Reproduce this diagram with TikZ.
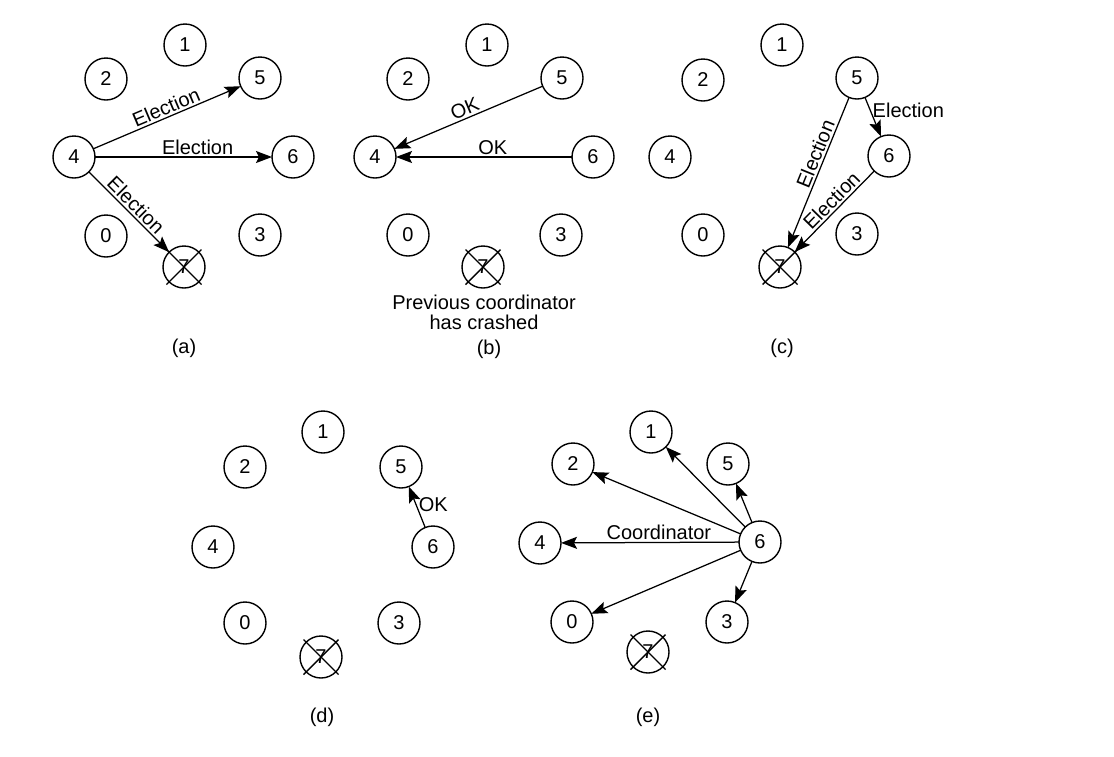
\documentclass[tikz,border=0pt]{standalone}
\usepackage{fontspec}
\setmainfont{Liberation Sans}
\usetikzlibrary{arrows.meta}
\begin{document}
\begin{tikzpicture}[x=1pt,y=-1pt,
  proc/.style={circle,draw,line width=1.4pt,minimum size=42pt,inner sep=0pt,outer sep=0pt,font=\fontsize{20}{24}\selectfont},
  arr/.style={-{Stealth[length=16pt,width=12pt,inset=3pt]},line width=1.25pt},
  lab/.style={font=\fontsize{20}{24}\selectfont,inner sep=2pt},
  sublabel/.style={font=\fontsize{20}{24}\selectfont,inner sep=0pt}]
\useasboundingbox (0,0) rectangle (1114,756);
\newcommand\crossnode[1]{\draw[line width=1.4pt] ([shift={(-17.5,-17.5)}]#1.center) -- ([shift={(17.5,17.5)}]#1.center) ([shift={(-17.5,17.5)}]#1.center) -- ([shift={(17.5,-17.5)}]#1.center);}
% ---------- (a)
\node[proc] (a1) at (185,45) {1};
\node[proc] (a2) at (106,79) {2};
\node[proc] (a5) at (260,78) {5};
\node[proc] (a4) at (74,157) {4};
\node[proc] (a6) at (293,157) {6};
\node[proc] (a0) at (106,236) {0};
\node[proc] (a3) at (260,235) {3};
\node[proc] (a7) at (184,267) {7};
\crossnode{a7}
\draw[arr] (a4) -- node[lab,sloped,above,pos=0.52] {Election} (a5);
\draw[arr] (a4) -- node[lab,above,pos=0.58] {Election} (a6);
\draw[arr] (a4) -- node[lab,sloped,above] {Election} (a7);
\node[sublabel] (la) at (184,348) {(a)};
% ---------- (b)
\node[proc] (b1) at (487,45) {1};
\node[proc] (b2) at (408,79) {2};
\node[proc] (b5) at (562,78) {5};
\node[proc] (b4) at (375,157) {4};
\node[proc] (b6) at (593,157) {6};
\node[proc] (b0) at (408,235) {0};
\node[proc] (b3) at (561,235) {3};
\node[proc] (b7) at (483,267) {7};
\crossnode{b7}
\draw[arr] (b5) -- node[lab,sloped,above] {OK} (b4);
\draw[arr] (b6) -- node[lab,above,pos=0.45] {OK} (b4);
\node[sublabel,align=center,font=\fontsize{20}{19.5}\selectfont,anchor=north] (crash) at (484,295) {Previous coordinator\\has crashed};
\node[sublabel] (lb) at (489,349) {(b)};
% ---------- (c)
\node[proc] (c1) at (782,45) {1};
\node[proc] (c2) at (703,80) {2};
\node[proc] (c5) at (857,78) {5};
\node[proc] (c4) at (670,157) {4};
\node[proc] (c6) at (889,156) {6};
\node[proc] (c0) at (703,235) {0};
\node[proc] (c3) at (857,234) {3};
\node[proc] (c7) at (780,267) {7};
\crossnode{c7}
\draw[arr] (c5) -- node[lab,right,pos=0.32] {Election} (c6);
\draw[arr] (c5) -- node[lab,sloped,above,pos=0.4] {Election} (c7);
\draw[arr] (c6) -- node[lab,sloped,above,pos=0.45] {Election} (c7);
\node[sublabel] (lc) at (782,348) {(c)};
% ---------- (d)
\node[proc] (d1) at (323,432) {1};
\node[proc] (d2) at (245,467) {2};
\node[proc] (d5) at (401,467) {5};
\node[proc] (d4) at (213,547) {4};
\node[proc] (d6) at (433,547) {6};
\node[proc] (d0) at (245,623) {0};
\node[proc] (d3) at (399,623) {3};
\node[proc] (d7) at (321,657) {7};
\crossnode{d7}
\draw[arr] (d6) -- node[lab,right,pos=0.55] {OK} (d5);
\node[sublabel] (ld) at (322,717) {(d)};
% ---------- (e)
\node[proc] (e1) at (651,432) {1};
\node[proc] (e2) at (573,464) {2};
\node[proc] (e5) at (728,464) {5};
\node[proc] (e4) at (540,543) {4};
\node[proc] (e6) at (760,542) {6};
\node[proc] (e0) at (572,622) {0};
\node[proc] (e3) at (727,622) {3};
\node[proc] (e7) at (648,652) {7};
\crossnode{e7}
\draw[arr] (e6) -- (e1);
\draw[arr] (e6) -- (e2);
\draw[arr] (e6) -- node[lab,above,pos=0.45] {Coordinator} (e4);
\draw[arr] (e6) -- (e0);
\draw[arr] (e6) -- (e5);
\draw[arr] (e6) -- (e3);
\node[sublabel] (le) at (648,717) {(e)};
\end{tikzpicture}
\end{document}
